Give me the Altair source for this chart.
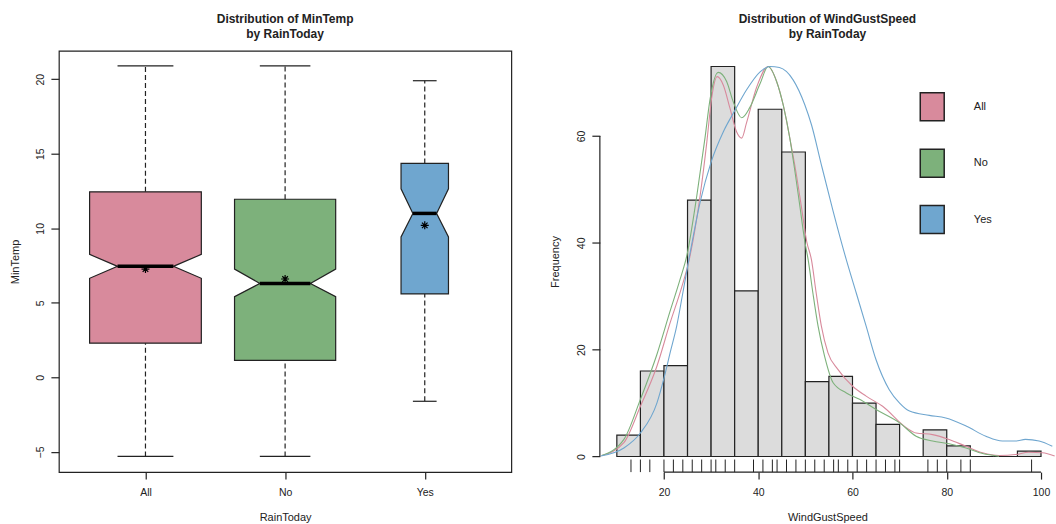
import math

import altair as alt
import pandas as pd

FONT = "Liberation Sans"
INK = "#222222"

# ---------------- MinTemp by RainToday (notched box plot summary) ----------------
groups = ["All", "No", "Yes"]
palette = ["#D88A9C", "#7DB17B", "#6FA6CF"]
group_size = [366, 300, 66]
temp_whisker_low = [-5.3, -5.3, -1.6]
temp_q1 = [2.3, 1.15, 5.6]
temp_notch_low = [6.65, 5.42, 9.42]
temp_median = [7.45, 6.3, 11.0]
temp_notch_high = [8.25, 7.27, 12.65]
temp_q3 = [12.45, 11.95, 14.35]
temp_whisker_high = [20.9, 20.9, 19.9]
temp_mean = [7.27, 6.6, 10.2]
temp_ticks = [-5, 0, 5, 10, 15, 20]

# ---------------- WindGustSpeed histogram, densities and rug ----------------
hist_breaks = [10, 15, 20, 25, 30, 35, 40, 45, 50, 55, 60, 65, 70, 75, 80, 85, 90, 95, 100]
hist_counts = [4, 16, 17, 48, 73, 31, 65, 57, 14, 15, 10, 6, 0, 5, 2, 0, 0, 1]
gust_rug = [13, 15, 17, 20, 22, 24, 26, 28, 30, 31, 33, 35, 39, 41, 43, 44, 46, 48,
            50, 52, 54, 56, 57, 59, 61, 63, 65, 67, 69, 70, 76, 78, 80, 83, 85, 98]
gust_ticks = [20, 40, 60, 80, 100]
freq_ticks = [0, 20, 40, 60]

dens_all_x = [6.8, 11.5, 15.0, 18.5, 21.3, 23.8, 25.4, 27.7, 29.1, 30.1, 31.3, 32.6, 34.0,
              35.4, 36.5, 37.5, 39.7, 42.1, 43.9, 45.3, 46.7, 48.0, 49.1, 50.3, 51.3, 52.3,
              53.4, 54.8, 56.9, 60.1, 62.9, 66.4, 71.4, 73.5, 77.0, 80.5, 84.1, 87.6, 91.1,
              94.6, 97.4, 100.3, 102.9]
dens_all_y = [0.2, 2.6, 9.4, 16.9, 25.0, 31.8, 37.0, 49.0, 58.9, 67.0, 71.1, 69.5, 65.2,
              60.8, 59.6, 62.4, 69.2, 73.0, 70.2, 65.8, 59.6, 53.3, 47.1, 40.2, 36.8, 30.6,
              24.4, 19.4, 16.3, 13.1, 11.3, 9.4, 5.4, 4.4, 4.1, 3.2, 1.9, 0.7, 0.2,
              0.37, 0.8, 0.7, 0.1]
dens_no_x = [6.8, 11.5, 15.0, 18.5, 21.3, 23.4, 24.9, 27.0, 28.7, 29.8, 31.5, 33.3, 34.7,
             36.5, 38.2, 40.4, 42.1, 43.9, 45.3, 46.7, 47.8, 48.8, 49.9, 50.6, 51.6, 52.7,
             54.1, 55.9, 58.7, 61.5, 65.0, 70.0, 73.5, 77.0, 80.5, 84.1, 87.6, 91.1]
dens_no_y = [0.2, 3.2, 10.7, 19.1, 27.2, 33.1, 37.8, 49.0, 59.6, 67.0, 71.9, 70.2, 66.4,
             63.4, 65.3, 69.8, 73.0, 70.2, 65.8, 59.6, 53.3, 47.1, 40.2, 36.8, 30.6, 24.4,
             18.7, 13.8, 11.9, 10.7, 8.8, 6.3, 3.8, 2.9, 2.4, 1.6, 0.56, 0.06]
dens_yes_x = [6.6, 11.5, 15.0, 18.5, 20.1, 21.3, 22.7, 24.0, 25.4, 27.7, 30.0, 32.6, 35.0,
              37.5, 40.4, 42.5, 44.5, 47.4, 49.9, 51.3, 53.4, 55.9, 58.7, 60.8, 62.9, 65.0,
              67.8, 70.0, 72.1, 76.3, 79.8, 84.1, 88.3, 91.8, 94.6, 96.7, 99.6, 102.4]
dens_yes_y = [0.1, 1.6, 4.4, 10.0, 15.0, 19.4, 24.4, 30.6, 37.4, 47.7, 55.1, 60.8, 64.7,
              68.6, 72.0, 73.0, 72.8, 70.5, 65.8, 62.1, 54.6, 45.9, 36.8, 30.6, 24.4, 18.1,
              12.5, 10.0, 8.5, 7.7, 7.2, 5.7, 3.8, 2.9, 2.9, 3.2, 2.9, 1.9]

# ---------------- layout constants ----------------
LEFT_W, RIGHT_W, PLOT_H = 453.3, 456, 422
BOX_WEX = 0.8          # full box width for the largest group (in category units)
RUG_LEN = 12.6         # rug tick length in pixels

# ---------------- tables built from the arrays ----------------
max_n = max(group_size)
outline_rows, whisker_rows, cap_rows, median_rows, mean_rows = [], [], [], [], []
for i, g in enumerate(groups):
    c = i + 1
    hw = BOX_WEX / 2 * math.sqrt(group_size[i] / max_n)
    for y, half in [(temp_q1[i], hw), (temp_notch_low[i], hw), (temp_median[i], hw / 2),
                    (temp_notch_high[i], hw), (temp_q3[i], hw)]:
        outline_rows.append({"group": g, "y": y, "left": c - half, "right": c + half})
    whisker_rows.append({"pos": c, "lo": temp_q3[i], "hi": temp_whisker_high[i]})
    whisker_rows.append({"pos": c, "lo": temp_whisker_low[i], "hi": temp_q1[i]})
    for v in (temp_whisker_low[i], temp_whisker_high[i]):
        cap_rows.append({"a": c - hw / 2, "b": c + hw / 2, "y": v})
    median_rows.append({"a": c - hw / 2, "b": c + hw / 2, "y": temp_median[i]})
    mean_rows.append({"pos": c, "y": temp_mean[i]})

outline_df = pd.DataFrame(outline_rows)
whisker_df = pd.DataFrame(whisker_rows)
cap_df = pd.DataFrame(cap_rows)
median_df = pd.DataFrame(median_rows)
mean_df = pd.DataFrame(mean_rows)

hist_df = pd.DataFrame({"start": hist_breaks[:-1], "end": hist_breaks[1:], "count": hist_counts})
dens_rows = []
for g, xs, ys in [("All", dens_all_x, dens_all_y), ("No", dens_no_x, dens_no_y),
                  ("Yes", dens_yes_x, dens_yes_y)]:
    for k, (xv, yv) in enumerate(zip(xs, ys)):
        dens_rows.append({"group": g, "idx": k, "x": xv, "y": yv})
dens_df = pd.DataFrame(dens_rows)
rug_df = pd.DataFrame({"speed": gust_rug})
xline_df = pd.DataFrame({"lo": [min(gust_ticks)], "hi": [max(gust_ticks)]})
yline_df = pd.DataFrame({"lo": [min(freq_ticks)], "hi": [max(freq_ticks)]})

TITLE_STYLE = dict(fontSize=12, fontWeight="bold", font=FONT, color=INK, lineHeight=15,
                   anchor="middle", frame="group", baseline="bottom", offset=-2.5)

# ---------------- left panel: MinTemp box plots ----------------
x_left = alt.Scale(domain=[0.38, 3.62], nice=False, zero=False)
y_left = alt.Scale(domain=[-6.35, 21.9], nice=False, zero=False)
label_expr = "[" + ",".join("'%s'" % g for g in groups) + "][datum.value - 1]"

left_x_axis = alt.Axis(values=[1, 2, 3], labelExpr=label_expr, title="RainToday",
                       domain=False, grid=False, tickSize=7, labelPadding=8,
                       titleY=48, titleBaseline="alphabetic")
left_y_axis = alt.Axis(values=temp_ticks, title="MinTemp", domain=False, grid=False,
                       tickSize=8, labelAngle=270, labelAlign="center", labelBaseline="bottom",
                       labelPadding=5.5, labelOverlap=False, titleAngle=270, titleX=-40.4,
                       titleY=PLOT_H / 2, titleAlign="center", titleBaseline="alphabetic")


def lx(field):
    return alt.X(field, scale=x_left, axis=left_x_axis, title="RainToday")


def ly(field):
    return alt.Y(field, scale=y_left, axis=left_y_axis, title="MinTemp")


boxes = alt.Chart(outline_df).mark_area(orient="horizontal", stroke=INK, strokeWidth=1.2,
                                        interpolate="linear").encode(
    y=ly("y:Q"),
    x=alt.X("left:Q", scale=x_left, axis=left_x_axis, title="RainToday", stack=False),
    x2="right:Q",
    fill=alt.Fill("group:N", scale=alt.Scale(domain=groups, range=palette), legend=None),
    detail="group:N",
)
whiskers = alt.Chart(whisker_df).mark_rule(stroke=INK, strokeWidth=1.2, strokeDash=[5, 3]).encode(
    x=lx("pos:Q"), y=ly("lo:Q"), y2="hi:Q",
)
caps = alt.Chart(cap_df).mark_rule(stroke=INK, strokeWidth=1.2).encode(
    x=lx("a:Q"), x2="b:Q", y=ly("y:Q"),
)
medians = alt.Chart(median_df).mark_rule(stroke="#000000", strokeWidth=3.5).encode(
    x=lx("a:Q"), x2="b:Q", y=ly("y:Q"),
)
STAR = "M-1,0H1M0,-1V1M-0.7,-0.7L0.7,0.7M-0.7,0.7L0.7,-0.7"
means = alt.Chart(mean_df).mark_point(shape=STAR, size=64, stroke="#000000", strokeWidth=1.2,
                                      filled=False, opacity=1).encode(
    x=lx("pos:Q"), y=ly("y:Q"),
)

left = alt.layer(boxes, whiskers, caps, medians, means).properties(
    width=LEFT_W, height=PLOT_H,
    view=alt.ViewBackground(stroke=INK, strokeWidth=1.2),
    title=alt.TitleParams(["Distribution of MinTemp", "by RainToday"], **TITLE_STYLE),
)

# ---------------- right panel: WindGustSpeed histogram ----------------
x_right = alt.Scale(domain=[6.4, 102.97], nice=False, zero=False)
y_right = alt.Scale(domain=[-2.92, 75.92], nice=False, zero=False)

right_x_axis = alt.Axis(values=gust_ticks, title="WindGustSpeed", domain=False, grid=False,
                        tickSize=7, labelPadding=8, labelFlush=False,
                        titleY=48, titleBaseline="alphabetic")
right_y_axis = alt.Axis(values=freq_ticks, title="Frequency", domain=False, grid=False,
                        tickSize=8, labelAngle=270, labelAlign="center", labelBaseline="bottom",
                        labelPadding=5.5, labelOverlap=False, labelFlush=False, titleAngle=270,
                        titleX=-41.7, titleY=PLOT_H / 2, titleAlign="center",
                        titleBaseline="alphabetic")


def rx(field):
    return alt.X(field, scale=x_right, axis=right_x_axis, title="WindGustSpeed")


def ry(field):
    return alt.Y(field, scale=y_right, axis=right_y_axis, title="Frequency")


bars = alt.Chart(hist_df).mark_rect(fill="#DCDCDC", stroke=INK, strokeWidth=1.2).encode(
    x=rx("start:Q"), x2="end:Q", y=ry("count:Q"), y2=alt.datum(0),
)
# density curves: the stroke scale takes its domain from the data (All, No, Yes)
curves = alt.Chart(dens_df).mark_line(strokeWidth=1.1, interpolate="monotone", clip=True).encode(
    x=rx("x:Q"), y=ry("y:Q"),
    stroke=alt.Stroke("group:N", scale=alt.Scale(range=palette), legend=None),
    order="idx:Q",
)
RECT = "M-0.857,-1H0.857V1H-0.857Z"
legend_keys = alt.Chart(dens_df).mark_point(filled=True, size=0).encode(
    x=rx("x:Q"), y=ry("y:Q"),
    fill=alt.Fill("group:N", scale=alt.Scale(domain=groups, range=palette),
                  legend=alt.Legend(title=None, orient="none", legendX=318, legendY=41,
                                    symbolType=RECT, symbolSize=784, symbolOpacity=1,
                                    symbolStrokeColor=INK, symbolStrokeWidth=1.5,
                                    labelFont=FONT, labelFontSize=11, labelColor=INK,
                                    labelOffset=26.7, rowPadding=22.5)),
)
rug = alt.Chart(rug_df).mark_rule(stroke=INK, strokeWidth=1).encode(
    x=rx("speed:Q"), y=alt.value(PLOT_H), y2=alt.value(PLOT_H - RUG_LEN),
)
x_line = alt.Chart(xline_df).mark_rule(stroke=INK, strokeWidth=1.2).encode(
    x=rx("lo:Q"), x2="hi:Q", y=alt.value(PLOT_H),
)
y_line = alt.Chart(yline_df).mark_rule(stroke=INK, strokeWidth=1.2).encode(
    y=ry("lo:Q"), y2="hi:Q", x=alt.value(0),
)

right = alt.layer(bars, curves, legend_keys, rug, x_line, y_line).properties(
    width=RIGHT_W, height=PLOT_H,
    title=alt.TitleParams(["Distribution of WindGustSpeed", "by RainToday"], **TITLE_STYLE),
)

chart = alt.hconcat(left, right, spacing=88, bounds="flush").resolve_scale(
    fill="independent", stroke="independent"
).resolve_legend(fill="independent", stroke="independent").properties(
    padding={"left": 8, "top": 11.5, "right": 0, "bottom": 0},
    background="#FFFFFF",
).configure_view(stroke="transparent").configure_axis(
    labelFont=FONT, titleFont=FONT, labelFontSize=10.5, titleFontSize=11,
    titleFontWeight="normal", labelColor=INK, titleColor=INK, tickColor=INK, tickWidth=1.2,
)

chart.save("out.html", embed_options={"renderer": "svg", "actions": False})
